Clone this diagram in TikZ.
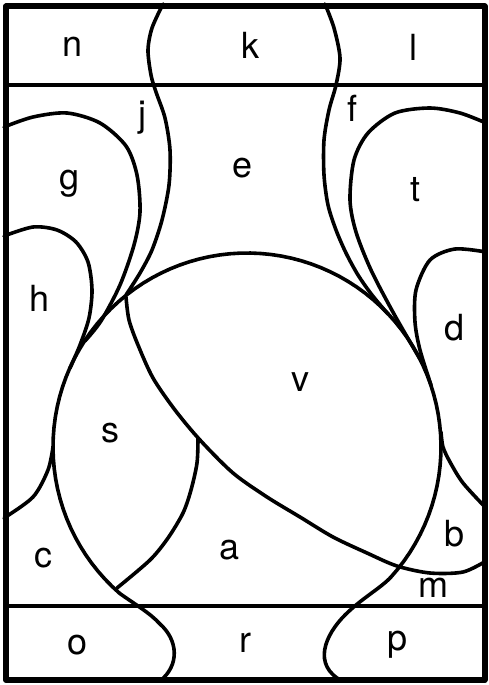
\documentclass[tikz,border=0pt]{standalone}
\usepackage{fontspec}
\setmainfont{TeX Gyre Heros}
\begin{document}
\begin{tikzpicture}[x=1pt,y=-1pt,line join=round,line cap=round,
  curve/.style={line width=3.6pt},
  band/.style={line width=3.4pt},
  frame/.style={line width=6pt},
  lbl/.style={font=\fontsize{36}{40}\selectfont,inner sep=0pt}]
\useasboundingbox (0,0) rectangle (488,685);
\coordinate (TL) at (6,6.5);
\coordinate (BR) at (484.5,680);
\coordinate (U1) at (6,85);
\coordinate (U2) at (484.5,85);
\coordinate (L1) at (6,606);
\coordinate (L2) at (484.5,606);
% big round region with the o and p bulges
\draw[curve] (160,681) .. controls (180,665) and (178,640) .. (160,624)
  .. controls (150,613) and (136,605) .. (119.7,593.4)
  -- plot[domain=131:402,samples=90] ({247+194*cos(\x)},{447+194*sin(\x)})
  .. controls (381,588) and (362,598) .. (345,615)
  .. controls (325,635) and (312,665) .. (342,681);
% k / e left boundary
\draw[curve] plot[smooth] coordinates {(163,4) (152,28) (148,50) (151,75) (156,92) (165,118) (170,150) (169,185) (162,220) (152,250) (140,273) (126,295)};
% k / e right boundary
\draw[curve] plot[smooth] coordinates {(325,4) (334,28) (340,58) (336,85) (329,110) (324,140) (324,175) (328,205) (336,230) (346,253) (358,275) (372,295) (388,314)};
% t
\draw[curve] plot[smooth] coordinates {(486,123) (460,113) (430,108) (395,113) (368,133) (354,160) (350,200) (356,232) (371,270) (394,314) (420,359)};
% d
\draw[curve] plot[smooth] coordinates {(486,252) (455,249) (430,260) (416,290) (415,322) (420,350) (431,385)};
% d / b
\draw[curve] plot[smooth] coordinates {(441,432) (443,447) (450,462) (463,483) (486,508)};
% g
\draw[curve] plot[smooth] coordinates {(4,127) (33,117) (67,113) (100,123) (126,146) (137,175) (140,212) (134,245) (120,285) (101,321) (85,341)};
% h
\draw[curve] plot[smooth] coordinates {(4,236) (33,227) (57,230) (76,242) (88,262) (92,290) (89,318) (80,345) (70,368)};
% c / h
\draw[curve] plot[smooth] coordinates {(4,518) (33,497) (48,470) (53,447)};
% diagonal (v lower boundary)
\draw[curve] plot[smooth] coordinates {(126,297) (129,320) (138,345) (153,378) (175,410) (200,440) (233,473) (267,497) (300,517) (333,537) (367,553) (397,566) (430,573) (463,572) (486,561)};
% s / a
\draw[curve] plot[smooth] coordinates {(198,438) (197,463) (191,490) (183,513) (168,538) (150,560) (117,588)};
% bands and frame
\draw[band] (U1) -- (U2);
\draw[band] (L1) -- (L2);
\draw[frame] (TL) rectangle (BR);
% labels
\node[lbl] (n) at (73,47) {n};
\node[lbl] (k) at (250,45) {k};
\node[lbl] (l) at (413,47) {l};
\node[lbl] (j) at (142,118) {j};
\node[lbl] (e) at (243,168) {e};
\node[lbl] (f) at (352,108) {f};
\node[lbl] (g) at (70,184) {g};
\node[lbl] (t) at (415,190) {t};
\node[lbl] (h) at (40,298) {h};
\node[lbl] (d) at (455,328) {d};
\node[lbl] (v) at (300,382) {v};
\node[lbl] (s) at (110,433) {s};
\node[lbl] (c) at (43,558) {c};
\node[lbl] (a) at (230,550) {a};
\node[lbl] (b) at (455,534) {b};
\node[lbl] (m) at (433,588) {m};
\node[lbl] (o) at (78,645) {o};
\node[lbl] (r) at (245,643) {r};
\node[lbl] (p) at (398,645) {p};
\end{tikzpicture}
\end{document}
